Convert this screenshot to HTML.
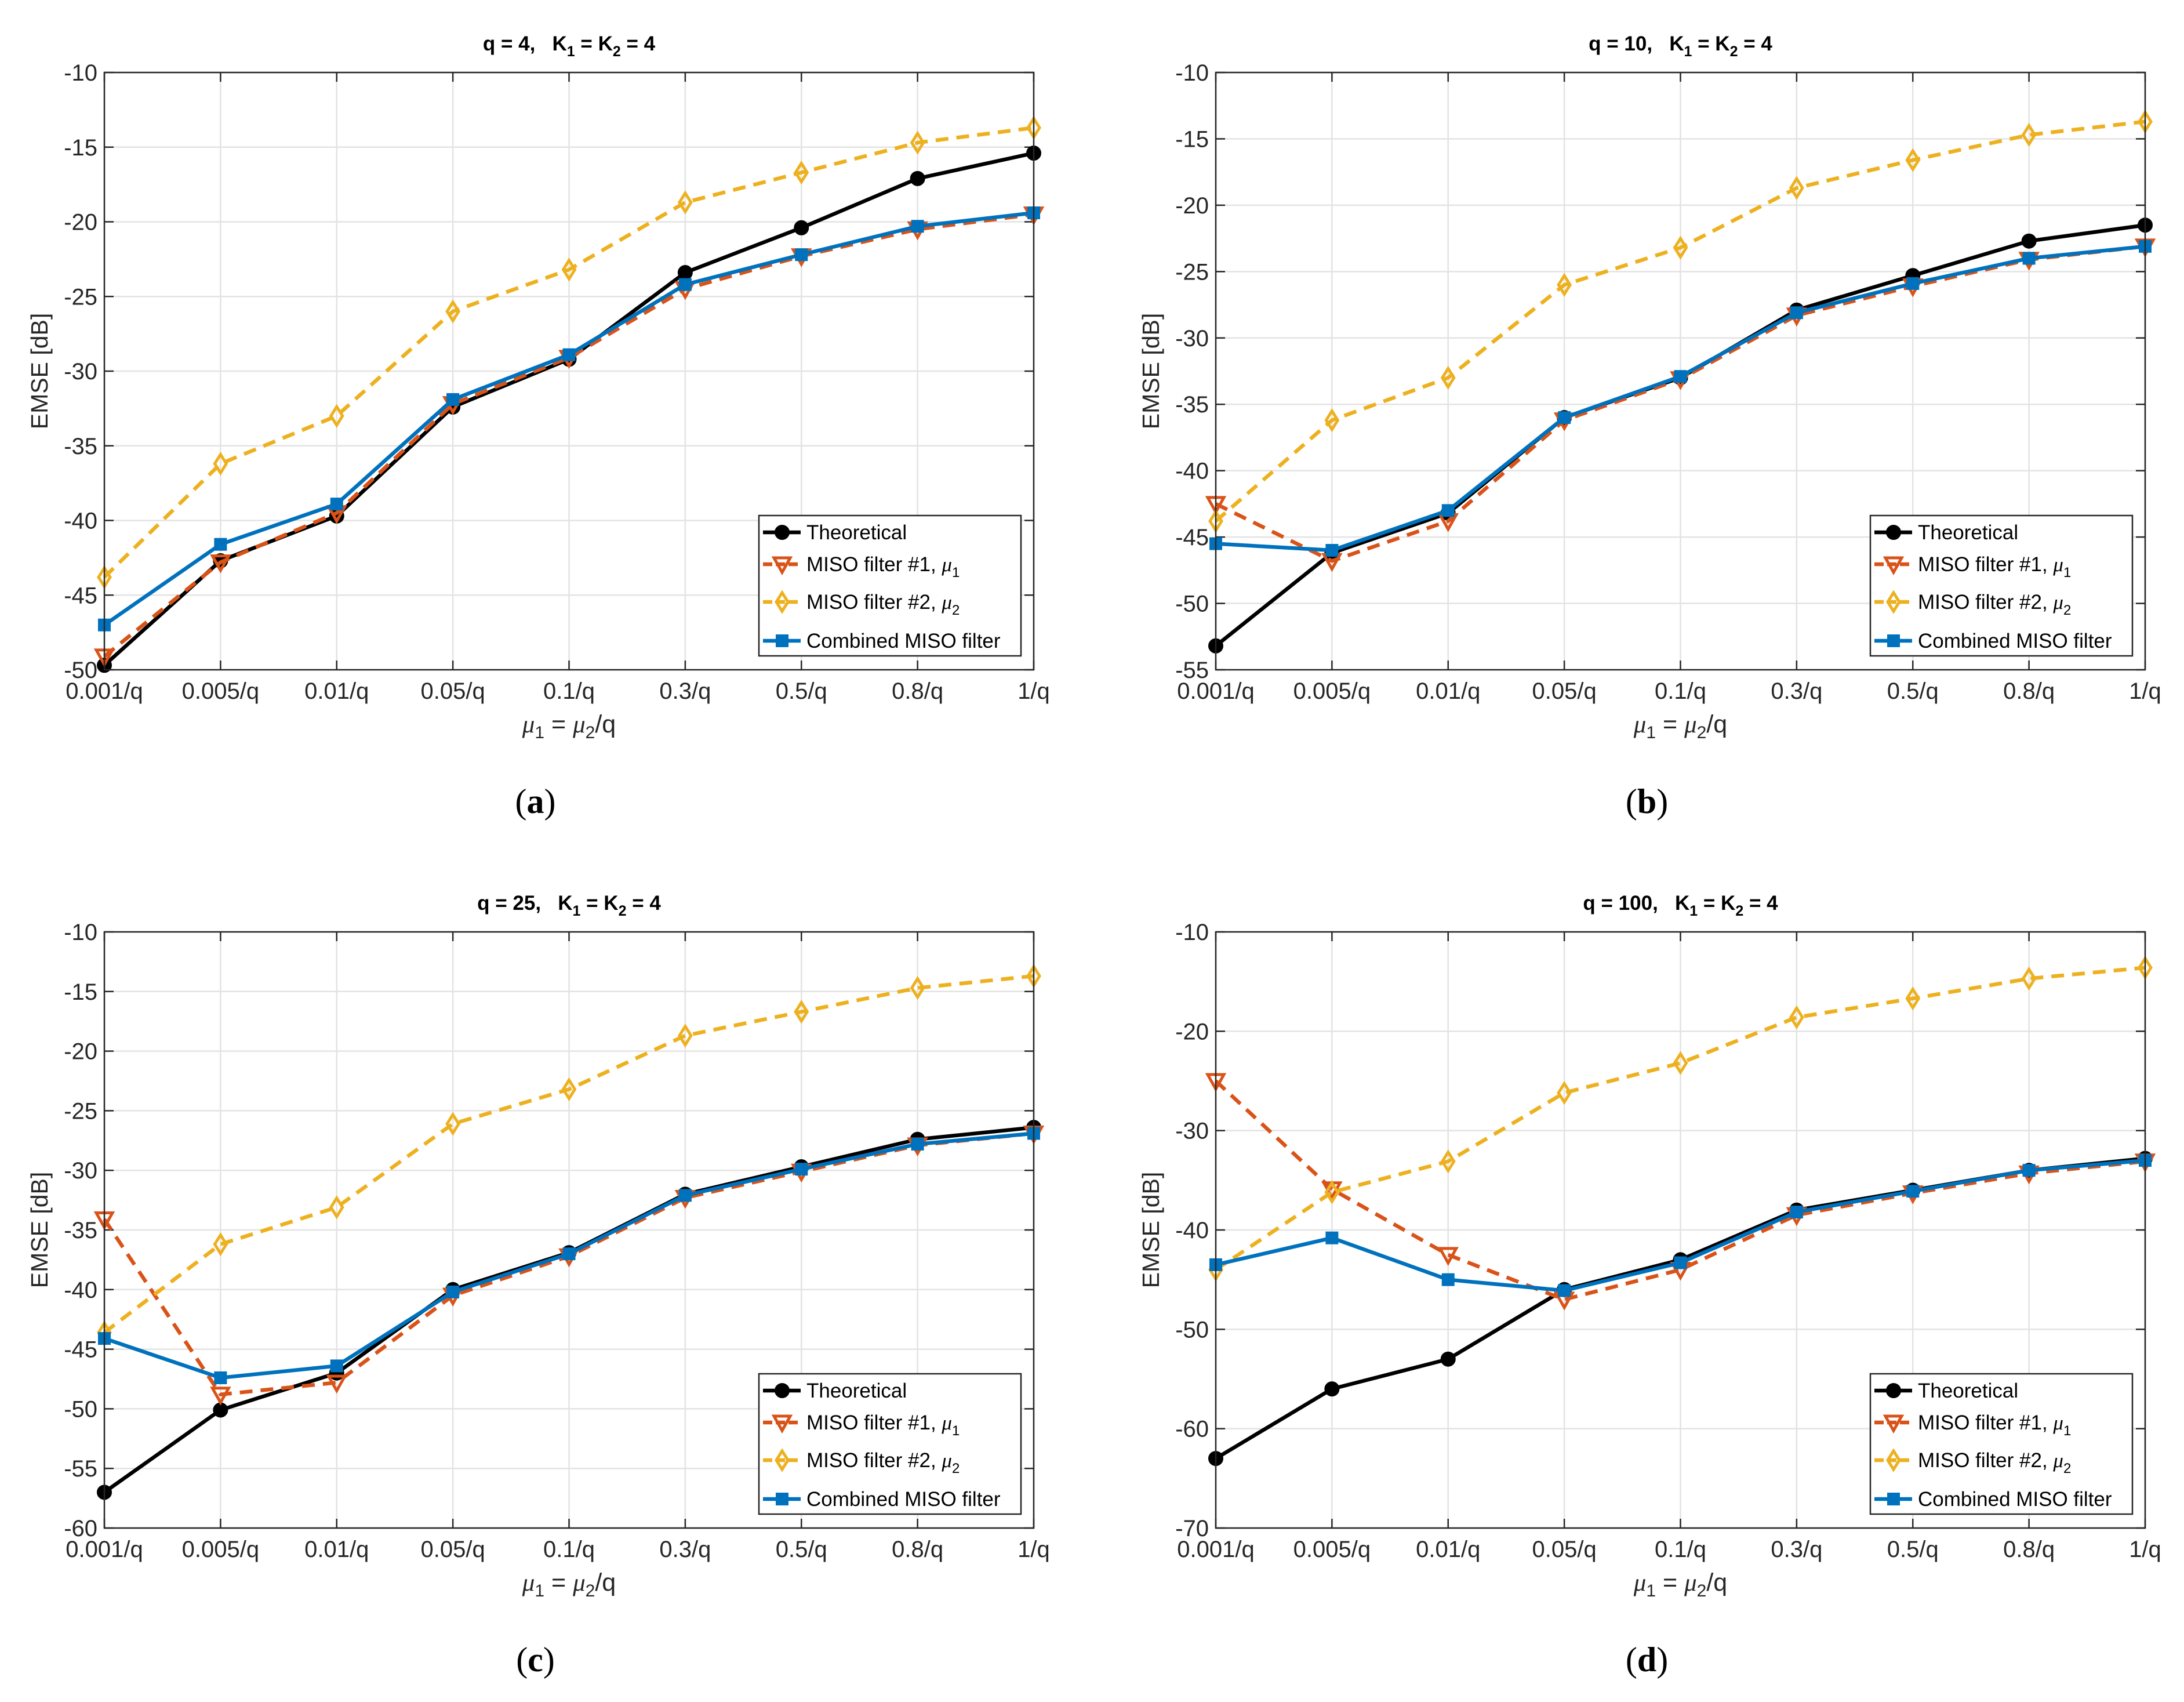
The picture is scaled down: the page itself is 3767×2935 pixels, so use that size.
<!DOCTYPE html>
<html><head><meta charset="utf-8"><style>
html,body{margin:0;padding:0;background:#fff;}
svg{display:block;font-family:"Liberation Sans",sans-serif;}
</style></head><body>
<svg id="fig" width="3767" height="2935" viewBox="0 0 3767 2935" xmlns="http://www.w3.org/2000/svg"></svg>
<script>
const categories=["0.001/q","0.005/q","0.01/q","0.05/q","0.1/q","0.3/q","0.5/q","0.8/q","1/q"];
const qValues=[4,10,25,100];
const panelLabels=["(a)","(b)","(c)","(d)"];
const yMins=[-50,-55,-60,-70];
const yMaxs=[-10,-10,-10,-10];
const ySteps=[5,5,5,10];
const theoA=[-49.7,-42.7,-39.7,-32.4,-29.2,-23.4,-20.4,-17.1,-15.4];
const miso1A=[-49.1,-42.8,-39.5,-32.2,-29.1,-24.5,-22.3,-20.5,-19.5];
const miso2A=[-43.8,-36.2,-33.0,-26.0,-23.2,-18.7,-16.7,-14.7,-13.7];
const combA=[-47.0,-41.6,-38.9,-31.9,-28.9,-24.2,-22.2,-20.3,-19.4];
const theoB=[-53.2,-46.2,-43.2,-36.0,-33.0,-27.9,-25.3,-22.7,-21.5];
const miso1B=[-42.5,-46.8,-43.8,-36.2,-33.1,-28.3,-26.1,-24.1,-23.1];
const miso2B=[-43.8,-36.2,-33.0,-26.0,-23.2,-18.7,-16.6,-14.7,-13.7];
const combB=[-45.5,-46.0,-43.0,-36.0,-32.9,-28.1,-25.9,-24.0,-23.1];
const theoC=[-57.0,-50.1,-47.0,-40.0,-36.9,-32.0,-29.7,-27.4,-26.4];
const miso1C=[-34.1,-48.8,-47.8,-40.5,-37.2,-32.3,-30.1,-27.9,-26.9];
const miso2C=[-43.6,-36.2,-33.1,-26.1,-23.2,-18.7,-16.7,-14.7,-13.7];
const combC=[-44.1,-47.4,-46.4,-40.2,-37.0,-32.1,-29.9,-27.8,-26.9];
const theoD=[-63.0,-56.0,-53.0,-46.0,-43.0,-38.0,-36.0,-34.0,-32.8];
const miso1D=[-25.0,-35.9,-42.5,-47.0,-44.0,-38.5,-36.3,-34.3,-33.1];
const miso2D=[-44.0,-36.2,-33.1,-26.2,-23.2,-18.6,-16.7,-14.7,-13.6];
const combD=[-43.5,-40.8,-45.0,-46.1,-43.3,-38.2,-36.1,-34.0,-33.0];

const NS="http://www.w3.org/2000/svg";
const svg=document.getElementById('fig');
function mk(tag,attrs,parent){const e=document.createElementNS(NS,tag);for(const k in attrs)e.setAttribute(k,attrs[k]);(parent||svg).appendChild(e);return e;}

const panels=[
 {x0:180,x1:1783,y0:125,y1:1155,data:[theoA,miso1A,miso2A,combA]},
 {x0:2097,x1:3700,y0:125,y1:1155,data:[theoB,miso1B,miso2B,combB]},
 {x0:180,x1:1783,y0:1607,y1:2635,data:[theoC,miso1C,miso2C,combC]},
 {x0:2097,x1:3700,y0:1607,y1:2635,data:[theoD,miso1D,miso2D,combD]}
];
const seriesStyle=[
 {name:"Theoretical",color:"#000000",dash:"",marker:"circle"},
 {name:"MISO filter #1, ",sub:"1",color:"#D95319",dash:"22,14",marker:"tri"},
 {name:"MISO filter #2, ",sub:"2",color:"#EDB120",dash:"22,14",marker:"diamond"},
 {name:"Combined MISO filter",color:"#0072BD",dash:"",marker:"square"}
];
function drawMarker(g,type,x,y,color){
 let m;
 if(type==="circle")m=mk('circle',{cx:x,cy:y,r:12,fill:color,stroke:color,'stroke-width':2},g);
 else if(type==="square")m=mk('rect',{x:x-11,y:y-11,width:22,height:22,fill:color},g);
 else if(type==="tri")m=mk('polygon',{points:`${x-14},${y-11} ${x+14},${y-11} ${x},${y+14}`,fill:"none",stroke:color,'stroke-width':5},g);
 else m=mk('polygon',{points:`${x},${y-16} ${x+10},${y} ${x},${y+16} ${x-10},${y}`,fill:"none",stroke:color,'stroke-width':5},g);
 
 
}
panels.forEach((p,pi)=>{
 const g=mk('g',{});
 
 
 const yMin=yMins[pi],yMax=yMaxs[pi];
 const xs=i=>p.x0+(p.x1-p.x0)*i/(categories.length-1);
 const ys=v=>p.y1-(p.y1-p.y0)*(v-yMin)/(yMax-yMin);
 for(let i=0;i<categories.length;i++){
  const l=mk('line',{x1:xs(i),x2:xs(i),y1:p.y0,y2:p.y1,stroke:"#e3e3e3",'stroke-width':2.5},g);
  
 }
 for(let v=yMin;v<=yMax+1e-9;v+=ySteps[pi]){
  const l=mk('line',{x1:p.x0,x2:p.x1,y1:ys(v),y2:ys(v),stroke:"#e3e3e3",'stroke-width':2.5},g);
  
  const t=mk('text',{x:p.x0-12,y:ys(v)+14,'text-anchor':'end','font-size':40,fill:"#262626"},g);
  t.textContent=v;
  mk('line',{x1:p.x0,x2:p.x0+16,y1:ys(v),y2:ys(v),stroke:"#262626",'stroke-width':2.5},g);
  mk('line',{x1:p.x1,x2:p.x1-16,y1:ys(v),y2:ys(v),stroke:"#262626",'stroke-width':2.5},g);
 }
 categories.forEach((c,i)=>{
  const t=mk('text',{x:xs(i),y:p.y1+50,'text-anchor':'middle','font-size':40,fill:"#262626"},g);
  t.textContent=c;
  mk('line',{x1:xs(i),x2:xs(i),y1:p.y1,y2:p.y1-16,stroke:"#262626",'stroke-width':2.5},g);
  mk('line',{x1:xs(i),x2:xs(i),y1:p.y0,y2:p.y0+16,stroke:"#262626",'stroke-width':2.5},g);
 });
 p.data.forEach((arr,si)=>{
  const st=seriesStyle[si];
  const pts=arr.map((v,i)=>xs(i)+","+ys(v)).join(" ");
  const pl=mk('polyline',{points:pts,fill:"none",stroke:st.color,'stroke-width':6.5,'stroke-linejoin':'round'},g);
  if(st.dash)pl.setAttribute('stroke-dasharray',st.dash);
  
  arr.forEach((v,i)=>drawMarker(g,st.marker,xs(i),ys(v),st.color));
 });
 const box=mk('rect',{x:p.x0,y:p.y0,width:p.x1-p.x0,height:p.y1-p.y0,fill:"none",stroke:"#262626",'stroke-width':2.5},g);
 
 const cx=(p.x0+p.x1)/2;
 const tt=mk('text',{x:cx,y:p.y0-38,'text-anchor':'middle','font-size':35,'font-weight':'bold',fill:"#000"},g);
 tt.innerHTML=`q = ${qValues[pi]},&#160;&#160; K<tspan font-size="25" dy="10">1</tspan><tspan dy="-10"> = K</tspan><tspan font-size="25" dy="10">2</tspan><tspan dy="-10"> = 4</tspan>`;
 
 const xl=mk('text',{x:cx,y:p.y1+108,'text-anchor':'middle','font-size':43,fill:"#262626"},g);
 xl.innerHTML=`<tspan font-style="italic" font-family="Liberation Serif, serif">μ</tspan><tspan font-size="30" dy="10">1</tspan><tspan dy="-10"> = </tspan><tspan font-style="italic" font-family="Liberation Serif, serif">μ</tspan><tspan font-size="30" dy="10">2</tspan><tspan dy="-10">/q</tspan>`;
 
 const yl=mk('text',{x:0,y:0,'text-anchor':'middle','font-size':41,fill:"#262626",transform:`translate(${p.x0-98},${(p.y0+p.y1)/2}) rotate(-90)`},g);
 yl.textContent="EMSE [dB]";
 const pl=mk('text',{x:cx-58,y:p.y1+247,'text-anchor':'middle','font-size':60,'font-family':'Liberation Serif, serif',fill:"#000"},g);
 pl.innerHTML=`(<tspan font-weight="bold">${'abcd'[pi]}</tspan>)`;
 
 const lg=mk('g',{},g);
 
 const lx=p.x1-474,ly=p.y1-266;
 mk('rect',{x:lx,y:ly,width:452,height:242,fill:"#fff",stroke:"#262626",'stroke-width':2.5},lg);
 const offs=[29,84,149,216];
 seriesStyle.forEach((st,si)=>{
  const yy=ly+offs[si];
  const e=mk('g',{},lg);
  
  const ln=mk('line',{x1:lx+7,x2:lx+72,y1:yy,y2:yy,stroke:st.color,'stroke-width':6.5},e);
  if(st.dash)ln.setAttribute('stroke-dasharray','16,6');
  drawMarker(e,st.marker,lx+40,yy,st.color);
  const t=mk('text',{x:lx+82,y:yy+12,'font-size':35,fill:"#000"},e);
  if(st.sub)t.innerHTML=`${st.name}<tspan font-style="italic" font-family="Liberation Serif, serif">μ</tspan><tspan font-size="24" dy="10">${st.sub}</tspan>`;
  else t.textContent=st.name;
 });
});
</script>
</body></html>
